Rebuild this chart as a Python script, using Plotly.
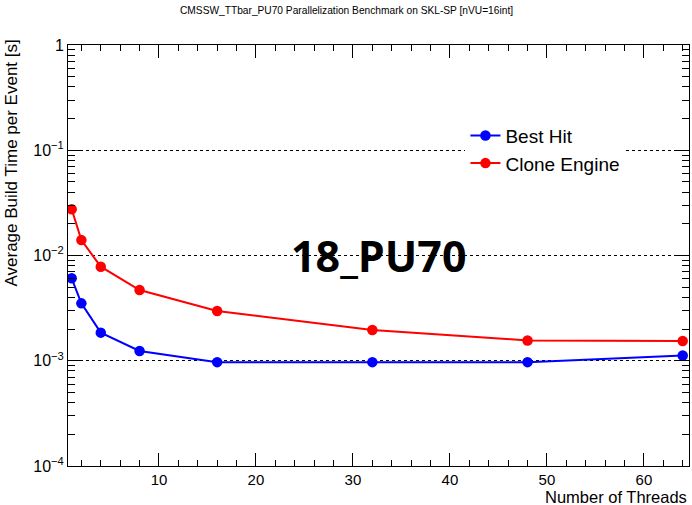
import plotly.graph_objects as go

# Benchmark results: average build time per event [s] vs. number of threads
threads = [1, 2, 4, 8, 16, 32, 48, 64]
best_hit = [0.00607, 0.00351, 0.00185, 0.00124, 0.00097, 0.00097, 0.00097, 0.00112]
clone_engine = [0.0275, 0.0140, 0.00783, 0.00470, 0.00297, 0.00196, 0.00156, 0.00154]

series_names = ["Best Hit", "Clone Engine"]
series_colors = ["#0000ff", "#ff0000"]

y_major = [1e-4, 1e-3, 1e-2, 1e-1, 1]
y_major_text = ["10<sup>−4</sup>", "10<sup>−3</sup>", "10<sup>−2</sup>", "10<sup>−1</sup>", "1"]
y_minor = [m * 10.0 ** e for e in range(-4, 0) for m in range(2, 10)]

W, H = 692, 505
ML, MR, MT, MB = 68, 3, 45, 39

fig = go.Figure()
for name, vals, col in zip(series_names, [best_hit, clone_engine], series_colors):
    fig.add_trace(go.Scatter(
        x=threads, y=vals, name=name, mode="lines+markers",
        line=dict(color=col, width=2),
        marker=dict(color=col, size=10.5, symbol="circle"),
    ))

font_main = "Liberation Sans, Arial, sans-serif"

fig.update_layout(
    width=W, height=H,
    margin=dict(l=ML, r=MR, t=MT, b=MB),
    paper_bgcolor="white", plot_bgcolor="white",
    font=dict(family=font_main, color="black", size=14),
    showlegend=True,
    legend=dict(
        x=0.64, y=0.83, xanchor="left", yanchor="top",
        bgcolor="white", borderwidth=0,
        font=dict(size=19, family=font_main),
        itemwidth=30, tracegroupgap=0,
    ),
    xaxis=dict(
        range=[0.62, 64.65],
        tickmode="linear", tick0=0, dtick=10,
        ticks="inside", ticklen=13, tickwidth=1, tickcolor="black",
        minor=dict(ticks="inside", ticklen=6, dtick=2, tick0=0, tickcolor="black", showgrid=False),
        showline=True, linecolor="black", linewidth=1, mirror="allticks",
        showgrid=False, zeroline=False,
        tickfont=dict(size=15),
    ),
    yaxis=dict(
        type="log", range=[-4, 0],
        tickmode="array", tickvals=y_major, ticktext=y_major_text,
        ticks="inside", ticklen=13, tickwidth=1, tickcolor="black",
        minor=dict(ticks="inside", ticklen=7, tickmode="array", tickvals=y_minor,
                   tickcolor="black", showgrid=False),
        showline=True, linecolor="black", linewidth=1, mirror="allticks",
        showgrid=True, gridcolor="black", griddash="dot", gridwidth=1,
        zeroline=False,
        tickfont=dict(size=16),
    ),
)

plot_h = H - MT - MB

def py(px):
    # page pixel row -> paper y coordinate
    return (H - MB - px) / plot_h

def px_(pxx):
    return (pxx - ML) / (W - ML - MR)

fig.add_annotation(
    text="CMSSW_TTbar_PU70 Parallelization Benchmark on SKL-SP [nVU=16int]",
    xref="paper", yref="paper", x=px_(346), y=py(11),
    xanchor="center", yanchor="middle", showarrow=False,
    font=dict(size=10.2, family=font_main),
)
fig.add_annotation(
    text="Number of Threads",
    xref="paper", yref="paper", x=px_(689), y=py(497),
    xanchor="right", yanchor="middle", showarrow=False,
    font=dict(size=16.5, family=font_main),
)
fig.add_annotation(
    text="Average Build Time per Event [s]",
    xref="paper", yref="paper", x=px_(11), y=py(38),
    xanchor="center", yanchor="top", textangle=-90, showarrow=False,
    font=dict(size=17, family=font_main),
)
fig.add_annotation(
    text="<b>18_PU70</b>",
    xref="paper", yref="paper", x=px_(379), y=py(255),
    xanchor="center", yanchor="middle", showarrow=False,
    font=dict(size=43, family="Open Sans, sans-serif", color="black"),
)

fig.write_html("out.html")
